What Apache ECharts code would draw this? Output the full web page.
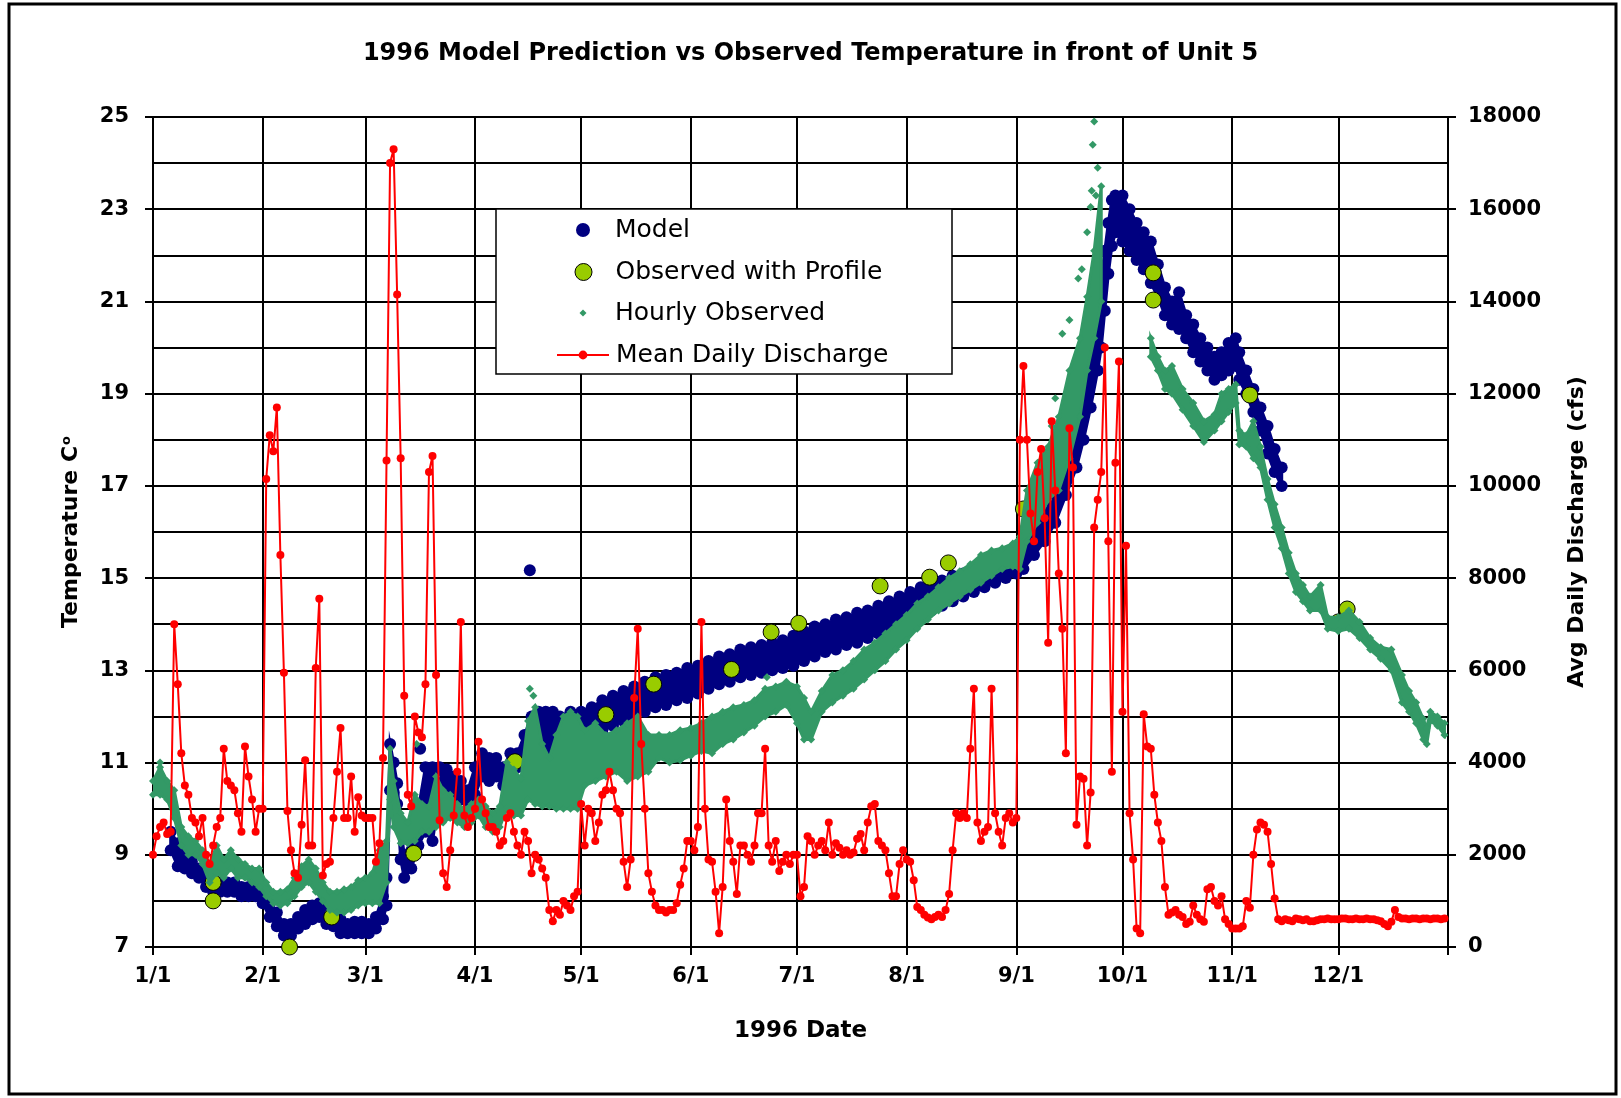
<!DOCTYPE html>
<html><head><meta charset="utf-8">
<script src="https://cdn.jsdelivr.net/npm/echarts@6/dist/echarts.min.js"></script>
<style>html,body{margin:0;padding:0;background:#fff}#c{width:1621px;height:1098px}</style>
</head><body><div id="c"></div>
<script>
// ---- axis ticks ----
const monthStarts = [0,31,60,91,121,152,182,213,244,274,305,335];
const monthLabels = ['1/1','2/1','3/1','4/1','5/1','6/1','7/1','8/1','9/1','10/1','11/1','12/1'];
const tempTicks = [7,9,11,13,15,17,19,21,23,25];

// ---- Mean daily discharge (cfs), one value per day of 1996 (index = day of year, 0 = 1/1) ----
const discharge = [
2000,2400,2600,2700,2450,2500,7000,5700,4200,3500,3300,2800,2700,2400,2800,2000,1800,2200,2600,2800,4300,3600,3500,3400,2900,2500,4350,3700,3200,2500,3000,
3000,10150,11100,10750,11700,8500,5950,2950,2100,1600,1500,2650,4050,2200,2200,6050,7550,1550,1800,1850,2800,3800,4750,2800,2800,3700,2500,3250,2850,
2800,2800,2800,1850,2250,4100,10550,17000,17300,14150,10600,5450,3300,3050,5000,4650,4550,5700,10300,10650,5900,2750,1600,1300,2100,2850,3800,7050,2850,2600,2800,
3000,4450,3200,2900,2600,2600,2500,2200,2300,2800,2900,2500,2200,2000,2500,2300,1600,2000,1900,1700,1500,800,560,800,700,1000,900,800,1100,1200,
3100,2200,3000,2900,2300,2700,3300,3400,3800,3400,3000,2900,1850,1300,1900,5400,6900,4400,3000,1600,1200,900,800,800,750,800,800,950,1350,1700,2300,
2300,2100,2600,7050,3000,1900,1850,1200,300,1300,3200,2300,1850,1150,2200,2200,2000,1850,2200,2900,2900,4300,2200,1850,2300,1650,1850,2000,1800,2000,
2000,1100,1300,2400,2300,2000,2200,2300,2100,2700,2000,2250,2150,2000,2100,2000,2050,2350,2450,2100,2700,3050,3100,2300,2200,2100,1600,1100,1100,1800,2100,
1900,1850,1450,870,800,700,640,600,650,700,650,800,1150,2100,2900,2800,2900,2800,4300,5600,2700,2300,2500,2600,5600,2900,2500,2200,2800,2900,2700,
2800,11000,12600,11000,9400,8800,10300,10800,9300,6600,11400,9900,8100,6900,4200,11250,10400,2650,3700,3650,2200,3350,9100,9700,10300,13000,8800,3800,10500,12700,
5100,8700,2900,1900,400,300,5050,4350,4300,3300,2700,2300,1300,700,750,800,700,650,500,550,900,700,600,550,1250,1300,1000,900,1100,600,500,
400,400,400,450,1000,850,2000,2550,2700,2650,2500,1800,1050,600,560,600,580,560,620,600,580,600,560,560,580,600,600,620,600,600,
600,620,620,600,600,620,600,600,620,600,600,580,560,500,450,550,800,650,620,620,600,620,620,600,620,620,600,620,620,600,620
];

// ---- Model (hourly model output, band low / high per sampled day) ----
const moDays = [5,7,9,11,13,15,17,19,21,23,25,27,29,31,33,35,37,39,41,43,45,47,49,51,53,55,57,59,61,63,65,66,67,68,69,70,71,73,75,77,79,81,83,85,87,89,91,93,95,97,99,101,103,105,107,109,111,113,115,118,121,124,127,130,133,136,139,142,145,148,151,154,157,160,163,166,169,172,175,178,181,184,187,190,193,196,199,202,205,208,211,214,217,220,223,226,229,232,235,238,241,244,246,249,252,255,258,261,263,265,267,268,269,270,271,272,274,276,278,280,282,284,286,288,290,292,294,296,298,300,302,304,306,307,309,311,313,315,317,319];
const moLo = [9.1,8.75,8.7,8.6,8.5,8.3,8.2,8.2,8.2,8.2,8.1,8.1,8.1,7.95,7.65,7.45,7.25,7.25,7.4,7.5,7.6,7.65,7.5,7.45,7.3,7.3,7.3,7.3,7.3,7.4,7.6,7.9,10.4,10.35,10.1,8.9,8.5,8.7,9.2,9.5,9.3,10.3,10.4,10.3,10.2,10.0,10.3,10.7,10.6,10.7,10.5,10.9,10.9,11.0,11.2,11.4,11.3,11.2,11.2,11.3,11.4,11.55,11.7,11.8,11.9,12.0,12.1,12.2,12.25,12.35,12.4,12.5,12.6,12.7,12.75,12.85,12.9,12.95,13.0,13.05,13.1,13.2,13.3,13.4,13.45,13.55,13.6,13.7,13.8,13.85,13.95,14.05,14.15,14.3,14.4,14.5,14.6,14.7,14.8,14.9,15.0,15.1,15.2,15.5,15.8,16.2,16.8,17.4,18.0,18.7,19.5,20.0,20.8,21.6,22.2,22.5,22.3,22.1,21.9,21.7,21.4,21.1,20.7,20.5,20.4,20.2,19.9,19.7,19.5,19.3,19.4,19.5,19.6,19.3,19.0,18.6,18.2,17.7,17.3,17.0];
const moHi = [9.5,9.25,9.0,8.85,8.7,8.55,8.45,8.4,8.4,8.4,8.3,8.3,8.25,8.2,7.95,7.75,7.5,7.5,7.65,7.8,7.9,7.95,7.8,7.65,7.6,7.5,7.55,7.55,7.5,7.65,8.1,8.5,11.4,11.0,10.55,9.6,9.0,9.3,10.0,10.9,10.9,10.9,10.85,10.7,10.6,10.4,10.9,11.2,11.1,11.1,10.9,11.2,11.2,11.6,12.0,12.1,12.1,12.1,12.0,12.1,12.1,12.2,12.35,12.45,12.55,12.65,12.75,12.85,12.9,12.95,13.05,13.1,13.2,13.3,13.35,13.45,13.5,13.55,13.6,13.65,13.75,13.85,13.95,14.0,14.1,14.15,14.25,14.3,14.4,14.5,14.6,14.7,14.8,14.9,14.95,15.05,15.1,15.2,15.3,15.35,15.45,15.5,15.65,16.0,16.4,16.9,17.5,18.3,19.0,19.9,20.8,21.5,22.1,22.7,23.2,23.3,23.3,23.0,22.7,22.5,22.3,21.8,21.3,21.0,21.2,20.7,20.5,20.2,20.0,19.8,19.9,20.1,20.2,19.9,19.5,19.1,18.7,18.3,17.8,17.4];
const moExtraDays = [75.5,106.5];
const moExtraTemps = [11.3,15.17];

// ---- Observed with profile ----
const obsDays = [17,17,38.6,50.5,73.7,102.3,128,141.5,163.5,174.7,182.5,205.5,219.5,224.8,246,282.7,282.7,310,335,337.5];
const obsTemps = [8.0,8.4,7.0,7.65,9.03,11.02,12.04,12.7,13.02,13.83,14.02,14.83,15.02,15.33,16.5,21.62,21.03,18.97,14.05,14.33];

// ---- Hourly observed (band low / high per sampled day) ----
const hoDays = [0,2,4,6,8,10,12,14,16,18,20,22,24,26,28,30,32,34,36,38,40,42,44,46,48,50,52,54,56,58,60,62,64,66,67,68,70,72,74,76,78,80,82,84,86,88,90,92,94,96,98,100,102,104,106,108,110,112,114,116,118,120,122,125,128,131,134,137,140,143,146,149,152,155,158,161,164,167,170,173,176,179,182,184,186,189,192,195,198,201,204,207,210,213,216,219,222,225,228,231,234,237,240,243,245,247,250,253,256,259,262,264,266,268,282,284,286,288,291,294,297,300,302,304,306,307,309,311,313,315,317,319,321,323,325,327,330,332,335,338,341,344,347,350,353,355,357,359,360,361,363,365];
const hoLo = [10.3,10.3,10.2,9.8,9.2,9.0,9.0,8.8,8.4,8.6,8.5,8.7,8.5,8.5,8.4,8.3,8.1,7.95,7.9,7.95,8.1,8.3,8.4,8.2,8.0,7.8,7.75,7.75,7.8,7.9,7.95,7.95,7.95,8.4,10.2,9.6,9.25,9.25,9.3,9.5,9.5,9.6,9.7,9.8,9.7,9.6,9.7,9.85,9.6,9.5,9.6,10.0,9.85,9.85,10.2,10.1,10.05,10.05,10.0,10.0,10.0,10.0,10.5,10.6,10.7,10.8,10.6,10.7,10.8,11.1,11.0,11.05,11.15,11.25,11.2,11.4,11.5,11.65,11.8,12.0,12.1,12.25,11.85,11.5,11.5,12.1,12.3,12.45,12.6,12.8,13.0,13.2,13.45,13.65,13.9,14.1,14.3,14.45,14.6,14.75,14.9,15.05,15.2,15.25,15.2,15.8,16.2,16.7,16.9,17.6,18.5,19.5,20.2,21.0,19.8,19.5,19.1,19.0,18.65,18.3,17.95,18.2,18.4,18.6,18.8,17.9,17.85,17.6,17.4,16.7,16.1,15.65,15.1,14.7,14.5,14.3,14.3,13.9,13.85,13.9,13.7,13.45,13.25,13.0,12.3,12.1,11.85,11.5,11.4,11.9,11.8,11.6];
const hoHi = [10.6,10.9,10.6,10.4,9.6,9.4,9.3,9.1,8.8,9.2,8.9,9.1,8.9,8.8,8.7,8.7,8.4,8.2,8.2,8.25,8.5,8.75,8.9,8.7,8.4,8.2,8.2,8.25,8.3,8.45,8.5,8.6,9.1,9.3,11.3,10.6,9.9,9.7,10.3,10.1,10.05,10.7,10.4,10.3,10.1,10.0,10.1,10.2,10.05,9.9,10.05,11.0,10.85,10.65,11.9,12.2,11.4,11.1,11.6,12.0,12.1,12.0,11.7,11.85,11.6,11.7,11.85,12.0,11.6,11.6,11.6,11.7,11.75,11.85,12.0,12.1,12.2,12.25,12.35,12.6,12.65,12.75,12.65,12.4,12.1,12.55,12.9,13.0,13.2,13.45,13.6,13.8,14.0,14.2,14.45,14.6,14.8,15.0,15.15,15.3,15.5,15.6,15.65,15.75,15.9,16.9,17.5,17.85,18.5,19.5,20.2,21.1,22.1,23.5,20.2,19.8,19.5,19.6,19.1,18.8,18.4,18.55,19.0,19.1,19.2,18.2,18.1,18.4,17.85,17.15,16.6,16.1,15.55,15.1,14.85,14.6,14.85,14.15,14.15,14.3,14.05,13.7,13.5,13.45,12.9,12.55,12.3,11.95,11.75,12.1,12.0,11.85];
const hoExtraDays = [2,74.5,106.5,107.5,173.5,254,255,257,259,261.5,262.5,264,265,265.3,266.5,267,265.6,266];
const hoExtraTemps = [11.0,11.4,12.6,12.45,12.85,18.3,18.9,20.3,20.6,21.5,21.7,22.5,23.05,23.4,23.3,23.9,24.4,24.9];

// ---------------------------------------------------------------
const FONT = 'DejaVu Sans';
const pair = (xs, ys) => xs.map((x, i) => [x, ys[i]]);

function bandRenderer(days, lo, hi, color) {
  return function (params, api) {
    const segs = [];
    let seg = [];
    for (let i = 0; i < days.length; i++) {
      if (i > 0 && days[i] - days[i - 1] > 6) { segs.push(seg); seg = []; }
      seg.push(i);
    }
    segs.push(seg);
    const children = segs.map(s => {
      const pts = [];
      s.forEach(i => pts.push(api.coord([days[i], hi[i]])));
      for (let k = s.length - 1; k >= 0; k--) pts.push(api.coord([days[s[k]], lo[s[k]]]));
      return { type: 'polygon', shape: { points: pts }, style: { fill: color, stroke: color, lineWidth: 3 } };
    });
    return { type: 'group', children: children };
  };
}

const NAVY = '#000080', SEA = '#339966', LIME = '#99CC00', RED = '#FF0000';
const rowTop = [230, 272, 313, 355].map(c => c - 15);
const legendText = { fontFamily: FONT, fontSize: 25, color: '#000', lineHeight: 30 };

function oneLegend(name, icon, size, itemStyle, top) {
  const w = size, left = 583 - w / 2;
  return {
    show: true, selectedMode: false, orient: 'horizontal', padding: 0, itemGap: 0, z: 10,
    left: left, top: top, itemWidth: w, itemHeight: w,
    textStyle: Object.assign({}, legendText, { padding: [0, 0, 0, 615 - (left + w + 5)] }),
    data: [{ name: name, icon: icon, itemStyle: itemStyle }]
  };
}

const option = {
  animation: false,
  backgroundColor: '#fff',
  title: {
    text: '1996 Model Prediction vs Observed Temperature in front of Unit 5',
    left: 'center', top: 37,
    textStyle: { fontFamily: FONT, fontWeight: 'bold', fontSize: 24, color: '#000' }
  },
  legend: [
    oneLegend('Model', 'circle', 14, { color: NAVY }, rowTop[0]),
    oneLegend('Observed with Profile', 'circle', 17, { color: LIME, borderColor: '#000', borderWidth: 1 }, rowTop[1]),
    oneLegend('Hourly Observed', 'diamond', 7, { color: SEA }, rowTop[2]),
    {
      show: true, selectedMode: false, padding: 0, z: 10, left: 556, top: rowTop[3],
      itemWidth: 52, itemHeight: 11,
      textStyle: Object.assign({}, legendText, { padding: [0, 0, 0, 2] }),
      data: [{ name: 'Mean Daily Discharge' }]
    }
  ],
  graphic: [
    { type: 'rect', z: 8, silent: true, shape: { x: 496, y: 209, width: 456, height: 165 },
      style: { fill: '#fff', stroke: '#000', lineWidth: 1.5 } },
    { type: 'rect', z: 100, silent: true, shape: { x: 9, y: 4, width: 1607, height: 1090 },
      style: { fill: 'none', stroke: '#000', lineWidth: 3 } }
  ],
  grid: { left: 153, top: 117, right: 173, bottom: 151, containLabel: false },
  xAxis: {
    type: 'value', min: 0, max: 366,
    name: '1996 Date', nameLocation: 'middle', nameGap: 73,
    nameTextStyle: { fontFamily: FONT, fontWeight: 'bold', fontSize: 23, color: '#000' },
    axisLine: { show: true, lineStyle: { color: '#000', width: 2 } },
    axisTick: { show: true, length: 8, lineStyle: { color: '#000', width: 2 }, customValues: monthStarts.concat([366]) },
    axisLabel: {
      customValues: monthStarts, margin: 19,
      fontFamily: FONT, fontWeight: 'bold', fontSize: 21, color: '#000',
      formatter: v => { const i = monthStarts.indexOf(v); return i >= 0 ? monthLabels[i] : ''; }
    },
    splitLine: { show: true, lineStyle: { color: '#000', width: 2 } }
  },
  yAxis: [
    {
      type: 'value', position: 'left', min: 7, max: 25, interval: 1,
      name: 'Temperature C{sup|o}', nameLocation: 'middle', nameGap: 70, nameRotate: 90,
      nameTextStyle: {
        fontFamily: FONT, fontWeight: 'bold', fontSize: 22, color: '#000',
        rich: { sup: { fontFamily: FONT, fontWeight: 'bold', fontSize: 13, color: '#000', verticalAlign: 'top', padding: [0, 0, 10, 1] } }
      },
      axisLine: { show: true, lineStyle: { color: '#000', width: 2 } },
      axisTick: { show: false }, axisLabel: { show: false },
      splitLine: { show: true, lineStyle: { color: '#000', width: 2 } }
    },
    {
      type: 'value', position: 'left', min: 0, max: 9, interval: 1,
      axisLine: { show: false },
      axisTick: { show: true, length: 8, lineStyle: { color: '#000', width: 2 } },
      axisLabel: { margin: 24, fontFamily: FONT, fontWeight: 'bold', fontSize: 21, color: '#000', formatter: v => String(tempTicks[v]) },
      splitLine: { show: false }
    },
    {
      type: 'value', position: 'right', min: 0, max: 18000, interval: 2000,
      name: 'Avg Daily Discharge (cfs)', nameLocation: 'middle', nameGap: 118, nameRotate: 90,
      nameTextStyle: { fontFamily: FONT, fontWeight: 'bold', fontSize: 22, color: '#000' },
      axisLine: { show: true, lineStyle: { color: '#000', width: 2 } },
      axisTick: { show: true, length: 8, lineStyle: { color: '#000', width: 2 } },
      axisLabel: { margin: 20, fontFamily: FONT, fontWeight: 'bold', fontSize: 21, color: '#000', formatter: v => String(v) },
      splitLine: { show: false }
    }
  ],
  series: [
    { type: 'custom', name: 'ModelBand', xAxisIndex: 0, yAxisIndex: 0, z: 2, silent: true, clip: true,
      data: [[0, 7]], encode: { x: 0, y: 1 }, renderItem: bandRenderer(moDays, moLo, moHi, NAVY) },
    { type: 'scatter', name: 'Model', xAxisIndex: 0, yAxisIndex: 0, z: 2, symbol: 'circle', symbolSize: 12,
      itemStyle: { color: NAVY, opacity: 1 },
      data: pair(moDays, moLo).concat(pair(moDays, moHi), pair(moExtraDays, moExtraTemps)) },
    { type: 'scatter', name: 'Observed with Profile', xAxisIndex: 0, yAxisIndex: 0, z: 3, symbol: 'circle', symbolSize: 16,
      itemStyle: { color: LIME, borderColor: '#000', borderWidth: 1, opacity: 1 },
      data: pair(obsDays, obsTemps) },
    { type: 'custom', name: 'HourlyBand', xAxisIndex: 0, yAxisIndex: 0, z: 4, silent: true, clip: true,
      data: [[0, 7]], encode: { x: 0, y: 1 }, renderItem: bandRenderer(hoDays, hoLo, hoHi, SEA) },
    { type: 'scatter', name: 'Hourly Observed', xAxisIndex: 0, yAxisIndex: 0, z: 4, symbol: 'diamond', symbolSize: 8,
      itemStyle: { color: SEA, opacity: 1 },
      data: pair(hoDays, hoLo).concat(pair(hoDays, hoHi), pair(hoExtraDays, hoExtraTemps)) },
    { type: 'line', name: 'Mean Daily Discharge', xAxisIndex: 0, yAxisIndex: 2, z: 5,
      symbol: 'circle', symbolSize: 8, showSymbol: true, showAllSymbol: true,
      lineStyle: { color: RED, width: 2 }, itemStyle: { color: RED },
      data: discharge.map((q, i) => [i, q]) }
  ]
};

const chart = echarts.init(document.getElementById('c'), null, { renderer: 'canvas' });
chart.setOption(option);
</script></body></html>
